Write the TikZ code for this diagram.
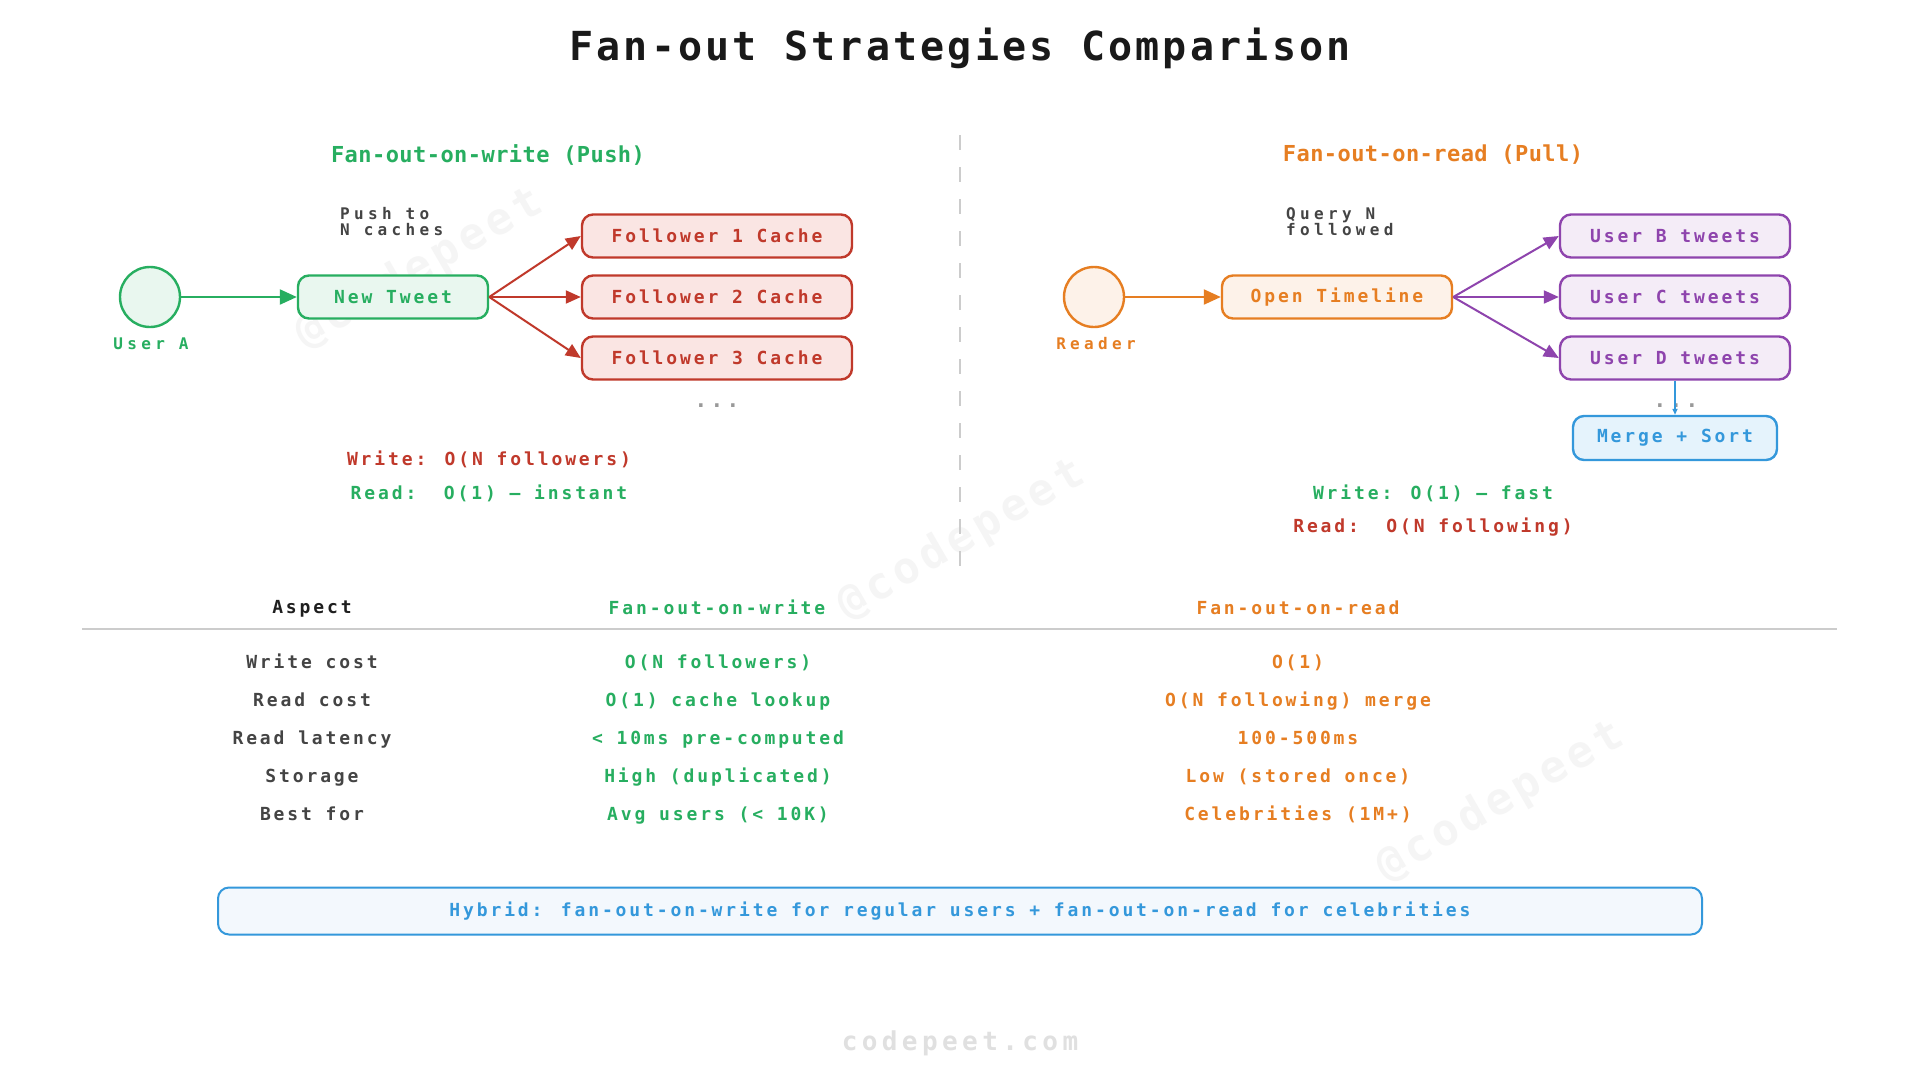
\documentclass[tikz,border=0pt]{standalone}
\usepackage{fontspec}
\setmainfont{DejaVu Sans}
\newfontfamily\fbody[LetterSpace=16]{DejaVu Sans Mono}
\newfontfamily\fsmall[LetterSpace=27]{DejaVu Sans Mono}
\newfontfamily\ftitle[LetterSpace=8]{DejaVu Sans Mono}
\newfontfamily\fsub[LetterSpace=2]{DejaVu Sans Mono}
\newfontfamily\fsite[LetterSpace=17]{DejaVu Sans Mono}
\newfontfamily\fwm[LetterSpace=11]{DejaVu Sans Mono}
\usetikzlibrary{arrows.meta}
\definecolor{cgreen}{HTML}{27AE60}
\definecolor{cred}{HTML}{C0392B}
\definecolor{corange}{HTML}{E67E22}
\definecolor{cpurple}{HTML}{8E44AD}
\definecolor{cblue}{HTML}{3498DB}
\definecolor{fgreen}{HTML}{E9F7EF}
\definecolor{fred}{HTML}{FAE5E3}
\definecolor{forange}{HTML}{FDF2E9}
\definecolor{fpurple}{HTML}{F4ECF7}
\definecolor{fblue}{HTML}{E5F3FC}
\definecolor{fhybrid}{HTML}{F3F8FD}
\definecolor{cgrayline}{HTML}{CCCCCC}
\definecolor{cdark}{HTML}{444444}
\definecolor{cdots}{HTML}{999999}
\begin{document}
\begin{tikzpicture}[x=1pt,y=-1pt,
  bodyfont/.style={font=\fbody\bfseries\fontsize{18}{22}\selectfont},
  smallfont/.style={font=\fsmall\bfseries\fontsize{16}{16}\selectfont},
  box/.style={draw, rounded corners=11pt, line width=2.4pt, minimum height=43pt,
    inner sep=0pt, bodyfont},
  circ/.style={draw, circle, line width=2.4pt, minimum size=60pt, inner sep=0pt},
  bigarrow/.style={line width=2.2pt, -{Triangle[length=17pt,width=15pt]}},
  midarrow/.style={line width=2pt, -{Triangle[length=15pt,width=13pt]}},
  txt/.style={inner sep=0pt, bodyfont},
  cell/.style={inner sep=0pt, bodyfont, anchor=base},
  wm/.style={font=\fwm\bfseries\fontsize{44}{50}\selectfont, text=black!4, rotate=30, inner sep=0pt}
]
\useasboundingbox[fill=white] (0,0) rectangle (1920,1080);

% watermarks
\node[wm] (wm1) at (419,269) {@codepeet};
\node[wm] (wm2) at (961,540) {@codepeet};
\node[wm] (wm3) at (1500,802) {@codepeet};

% title
\node[inner sep=0pt, font=\ftitle\bfseries\fontsize{40}{46}\selectfont, text=black!90] (title) at (960,48) {Fan-out Strategies Comparison};

% divider
\coordinate (divtop) at (960,135);
\coordinate (divbot) at (960,567);
\draw[cgrayline, line width=2pt, dash pattern=on 15pt off 17pt] (divtop) -- (divbot);

% subtitles
\node[inner sep=0pt, font=\fsub\bfseries\fontsize{22}{26}\selectfont, text=cgreen] (subL) at (488,155) {Fan-out-on-write (Push)};
\node[inner sep=0pt, font=\fsub\bfseries\fontsize{22}{26}\selectfont, text=corange] (subR) at (1433,155) {Fan-out-on-read (Pull)};

% ---------- left diagram ----------
\node[circ, draw=cgreen, fill=fgreen] (usera) at (150,297) {};
\node[smallfont, text=cgreen, inner sep=0pt] (useralbl) at (151,344) {User A};
\node[box, draw=cgreen, fill=fgreen, text=cgreen, minimum width=190pt] (tweet) at (393,297) {New Tweet};
\node[smallfont, text=cdark, align=left, anchor=west, inner sep=0pt] (pushlbl) at (340,222) {Push to\\N caches};
\node[box, draw=cred, fill=fred, text=cred, minimum width=270pt] (f1) at (717,236) {Follower 1 Cache};
\node[box, draw=cred, fill=fred, text=cred, minimum width=270pt] (f2) at (717,297) {Follower 2 Cache};
\node[box, draw=cred, fill=fred, text=cred, minimum width=270pt] (f3) at (717,358) {Follower 3 Cache};
\node[inner sep=0pt, font=\fbody\bfseries\fontsize{21}{22}\selectfont, text=cdots] (dotsL) at (717,406) {...};
\draw[bigarrow, cgreen] (usera) -- (tweet);
\draw[midarrow, cred] (tweet.east) -- (f1.west);
\draw[midarrow, cred] (tweet.east) -- (f2.west);
\draw[midarrow, cred] (tweet.east) -- (f3.west);
\node[txt, text=cred] (wL) at (489,459) {Write: O(N followers)};
\node[txt, text=cgreen] (rL) at (489,493) {Read:\ \ O(1) – instant};

% ---------- right diagram ----------
\node[circ, draw=corange, fill=forange] (reader) at (1094,297) {};
\node[smallfont, text=corange, inner sep=0pt] (readerlbl) at (1096,344) {Reader};
\node[box, draw=corange, fill=forange, text=corange, minimum width=230pt] (open) at (1337,297) {Open Timeline};
\node[smallfont, text=cdark, align=left, anchor=west, inner sep=0pt] (querylbl) at (1286,222) {Query N\\followed};
\node[box, draw=cpurple, fill=fpurple, text=cpurple, minimum width=230pt] (ub) at (1675,236) {User B tweets};
\node[box, draw=cpurple, fill=fpurple, text=cpurple, minimum width=230pt] (uc) at (1675,297) {User C tweets};
\node[box, draw=cpurple, fill=fpurple, text=cpurple, minimum width=230pt] (ud) at (1675,358) {User D tweets};
\node[inner sep=0pt, font=\fbody\bfseries\fontsize{21}{22}\selectfont, text=cdots] (dotsR) at (1676,406) {...};
\node[box, draw=cblue, fill=fblue, text=cblue, minimum width=204pt, minimum height=44pt] (merge) at (1675,438) {Merge + Sort};
\draw[bigarrow, corange] (reader) -- (open);
\draw[midarrow, cpurple] (open.east) -- (ub.west);
\draw[midarrow, cpurple] (open.east) -- (uc.west);
\draw[midarrow, cpurple] (open.east) -- (ud.west);
\draw[cblue, line width=1.6pt, -{Triangle[length=6pt,width=5pt]}] (ud.south) -- (merge.north);
\node[txt, text=cgreen] (wR) at (1433,493) {Write: O(1) – fast};
\node[txt, text=cred] (rR) at (1433,527) {Read:\ \ O(N following)};

% ---------- table ----------
\node[cell, text=black!88] (hA) at (312,613) {Aspect};
\node[cell, text=cgreen] (hW) at (717,614) {Fan-out-on-write};
\node[cell, text=corange] (hR) at (1298,614) {Fan-out-on-read};
\coordinate (hl1) at (82,629);
\coordinate (hl2) at (1837,629);
\draw[cgrayline, line width=2pt] (hl1) -- (hl2);

\node[cell, text=cdark] (r1a) at (312,668) {Write cost};
\node[cell, text=cgreen] (r1b) at (718,668) {O(N followers)};
\node[cell, text=corange] (r1c) at (1298,668) {O(1)};
\node[cell, text=cdark] (r2a) at (312,706) {Read cost};
\node[cell, text=cgreen] (r2b) at (718,706) {O(1) cache lookup};
\node[cell, text=corange] (r2c) at (1298,706) {O(N following) merge};
\node[cell, text=cdark] (r3a) at (312,744) {Read latency};
\node[cell, text=cgreen] (r3b) at (718,744) {< 10ms pre-computed};
\node[cell, text=corange] (r3c) at (1298,744) {100-500ms};
\node[cell, text=cdark] (r4a) at (312,782) {Storage};
\node[cell, text=cgreen] (r4b) at (718,782) {High (duplicated)};
\node[cell, text=corange] (r4c) at (1298,782) {Low (stored once)};
\node[cell, text=cdark] (r5a) at (312,820) {Best for};
\node[cell, text=cgreen] (r5b) at (718,820) {Avg users (< 10K)};
\node[cell, text=corange] (r5c) at (1298,820) {Celebrities (1M+)};

% ---------- hybrid ----------
\node[box, draw=cblue, fill=fhybrid, text=cblue, line width=2pt, minimum width=1484pt, minimum height=47pt] (hybrid) at (960,911) {Hybrid: fan-out-on-write for regular users + fan-out-on-read for celebrities};

% footer
\node[inner sep=0pt, font=\fsite\bfseries\fontsize{26}{30}\selectfont, text=black!12] (site) at (960,1043) {codepeet.com};
\end{tikzpicture}
\end{document}
